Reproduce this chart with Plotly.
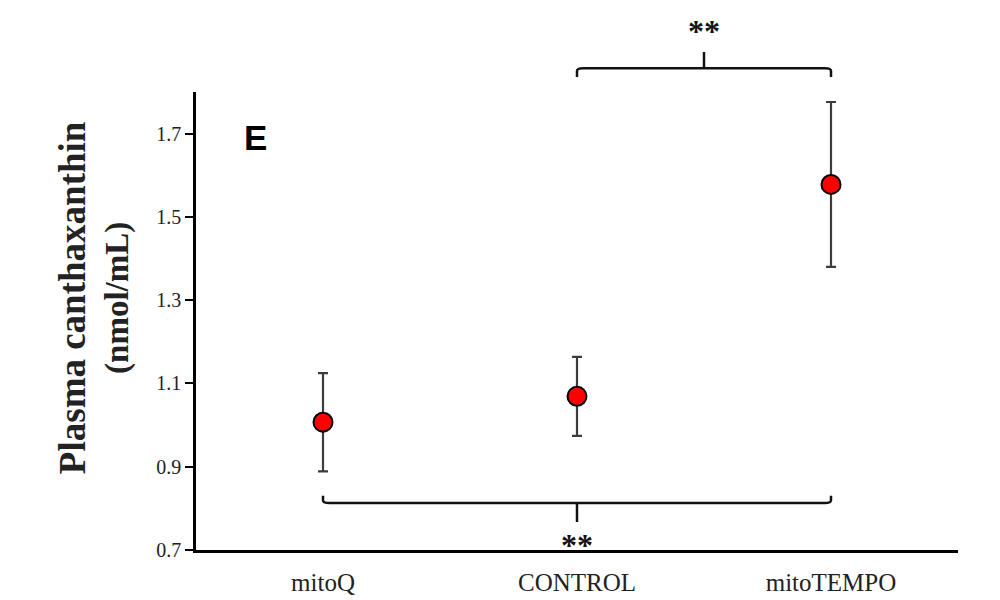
import plotly.graph_objects as go

# Data
groups = ["mitoQ", "CONTROL", "mitoTEMPO"]
means = [1.007, 1.069, 1.578]
errors = [0.118, 0.095, 0.198]
y_ticks = [0.7, 0.9, 1.1, 1.3, 1.5, 1.7]
y_tick_labels = ["0.7", "0.9", "1.1", "1.3", "1.5", "1.7"]
y_title_1 = "Plasma canthaxanthin"
y_title_2 = "(nmol/mL)"
panel_label = "E"
sig_label = "**"

Y0, Y1 = 0.7, 1.8


def py(v):
    return (v - Y0) / (Y1 - Y0)


fig = go.Figure()
fig.add_trace(go.Scatter(
    x=groups, y=means,
    mode="markers",
    error_y=dict(type="data", array=errors, visible=True,
                 color="#3c3c3c", thickness=2.2, width=5),
    marker=dict(color="#ff0000", size=19, line=dict(color="black", width=2)),
    showlegend=False,
    cliponaxis=False,
))


def bracket(x0, x1, y, yend, ytick):
    # y: level of horizontal line; yend: level of ends; ytick: tip of center tick (data units)
    xm = (x0 + x1) / 2
    r = 0.025
    s = 0.006 if yend > y else -0.006
    d = (f"M {x0},{py(yend)} L {x0},{py(y) + s} "
         f"Q {x0},{py(y)} {x0 + r},{py(y)} L {x1 - r},{py(y)} "
         f"Q {x1},{py(y)} {x1},{py(y) + s} L {x1},{py(yend)} "
         f"M {xm},{py(y)} L {xm},{py(ytick)}")
    return dict(type="path", xref="x", yref="paper", path=d,
                line=dict(color="#111111", width=2.5), layer="above")


shapes = [
    bracket(0, 2, 0.813, 0.830, 0.767),
    bracket(1, 2, 1.857, 1.836, 1.896),
]

star_font = dict(family="Liberation Serif", size=32, color="#111111")
annotations = [
    dict(x=1, y=py(0.731), xref="x", yref="paper", text=f"<b>{sig_label}</b>",
         showarrow=False, xanchor="center", yanchor="middle", font=star_font, yshift=-8),
    dict(x=1.5, y=py(1.951), xref="x", yref="paper", text=f"<b>{sig_label}</b>",
         showarrow=False, xanchor="center", yanchor="middle", font=star_font, yshift=-2),
    dict(x=-0.267, y=py(1.690), xref="x", yref="paper", text=f"<b>{panel_label}</b>",
         showarrow=False, xanchor="center", yanchor="middle",
         font=dict(family="Liberation Sans", size=35, color="black")),
    dict(x=-0.1345, y=0.551, xref="paper", yref="paper",
         text=(f"<b><span style='font-size:37px'>{y_title_1}</span><br>"
               f"{y_title_2}</b>"),
         textangle=-90, showarrow=False, xanchor="center", yanchor="middle",
         font=dict(family="Liberation Serif", size=33, color="#222222")),
]

fig.update_layout(
    width=1000, height=600,
    margin=dict(l=188, r=50, t=84, b=46),
    paper_bgcolor="white", plot_bgcolor="white",
    shapes=shapes, annotations=annotations,
    xaxis=dict(range=[-0.5, 2.5], showgrid=False, zeroline=False,
               showline=True, linecolor="black", linewidth=2.5,
               ticks="", tickfont=dict(family="Liberation Serif", size=25, color="#222222"),
               ticklabelstandoff=8),
    yaxis=dict(range=[Y0, Y1], showgrid=False, zeroline=False,
               showline=True, linecolor="black", linewidth=2.5,
               ticks="outside", ticklen=8, tickwidth=2, tickcolor="black",
               tickvals=y_ticks, ticktext=y_tick_labels,
               tickfont=dict(family="Liberation Serif", size=20, color="#222222")),
)

fig.write_html("out.html")
